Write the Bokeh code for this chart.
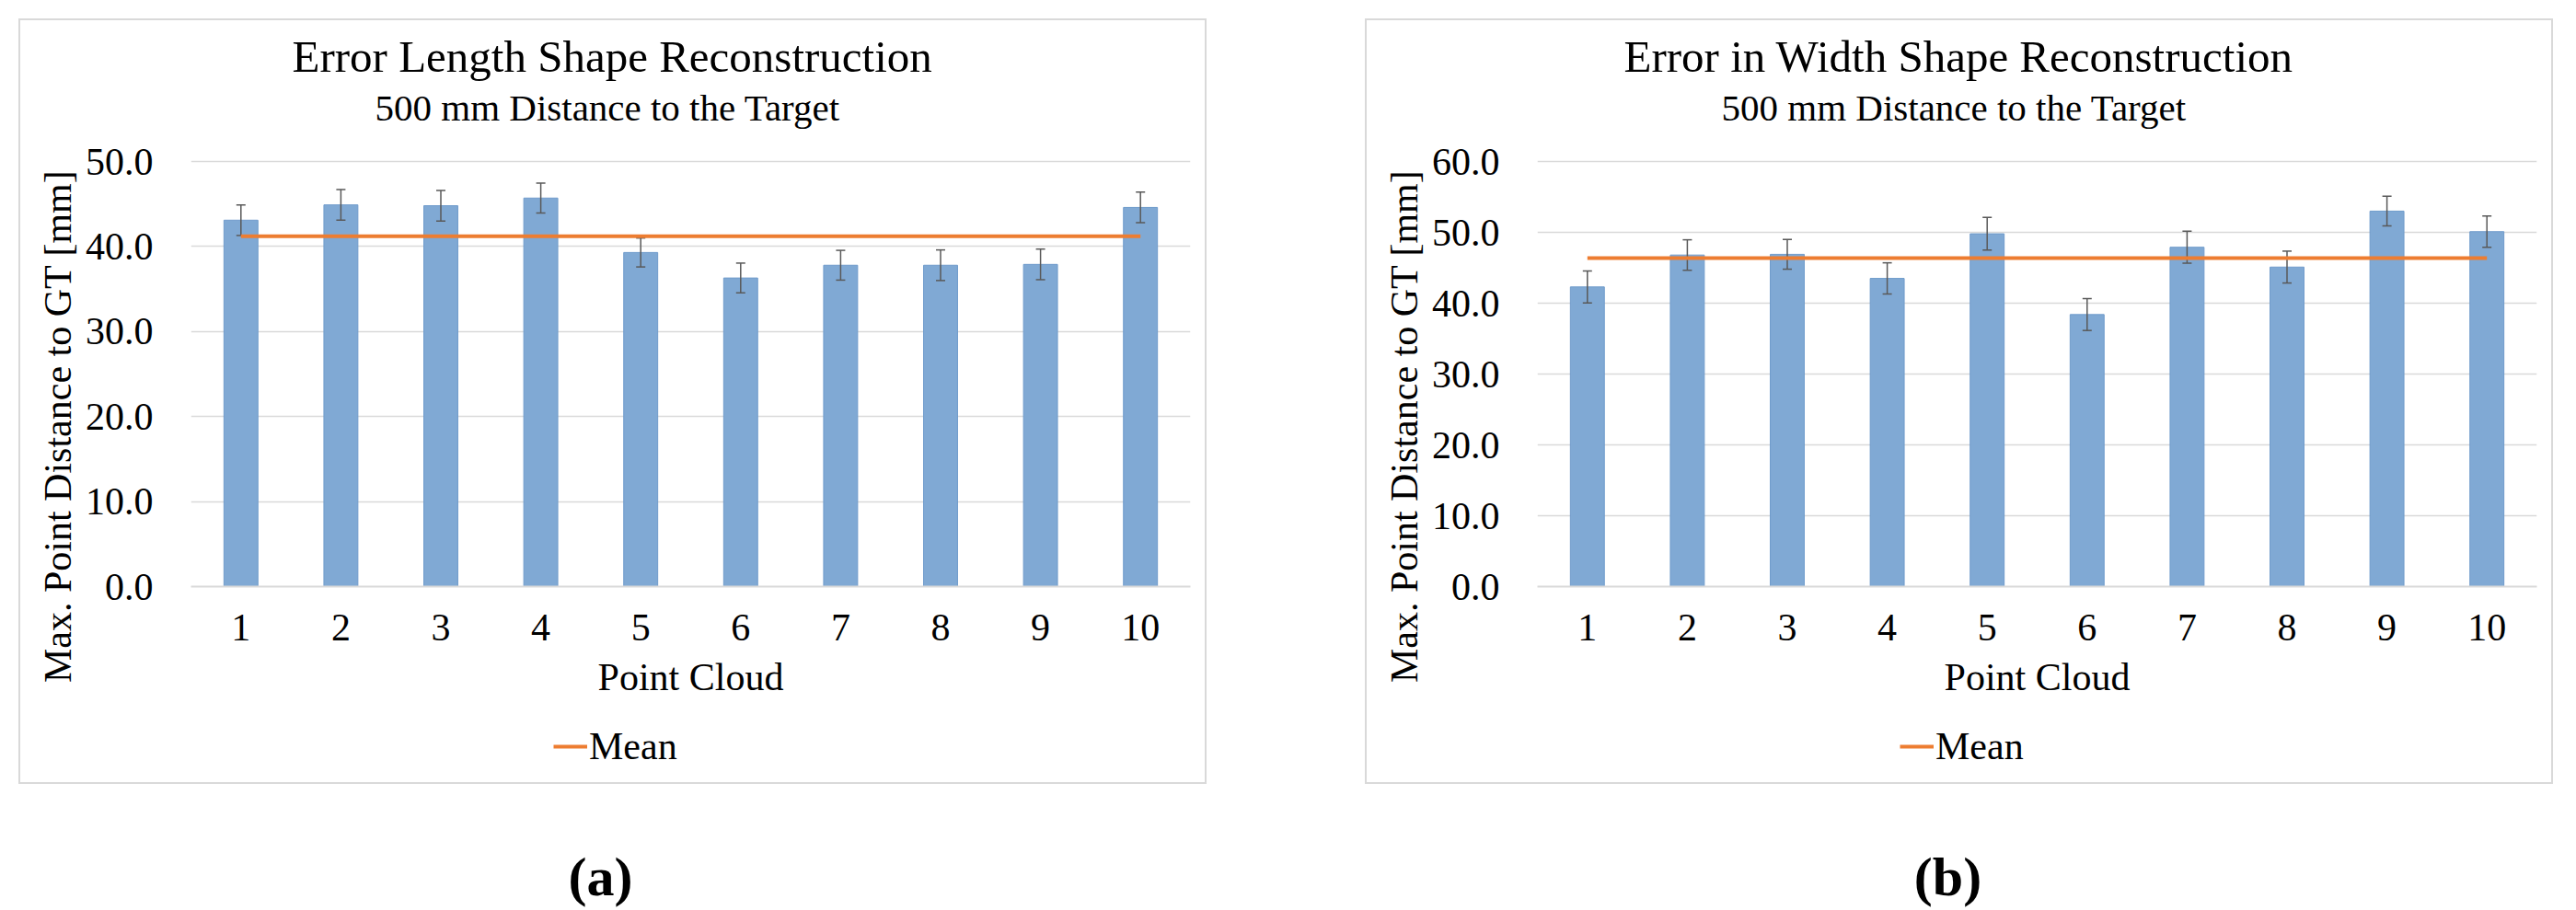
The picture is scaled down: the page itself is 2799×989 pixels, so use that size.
from bokeh.plotting import figure
from bokeh.models import (ColumnDataSource, Legend, LegendItem, Title, Range1d, FactorRange,
                          FixedTicker, NumeralTickFormatter, Spacer)
from bokeh.layouts import row, column
from bokeh.embed import file_html
from bokeh.resources import INLINE
from bokeh.core.properties import value

# ---------------- data ----------------
point_clouds = ["1", "2", "3", "4", "5", "6", "7", "8", "9", "10"]

length_error = [43.1, 44.9, 44.8, 45.7, 39.3, 36.3, 37.8, 37.8, 37.9, 44.6]
length_std = [1.8, 1.8, 1.8, 1.75, 1.7, 1.75, 1.75, 1.8, 1.8, 1.8]

width_error = [42.3, 46.8, 46.9, 43.5, 49.8, 38.4, 47.9, 45.1, 53.0, 50.1]
width_std = [2.25, 2.15, 2.1, 2.2, 2.3, 2.25, 2.25, 2.25, 2.1, 2.2]

titles = ["Error Length Shape Reconstruction", "Error in Width Shape Reconstruction"]
subtitle = "500 mm Distance to the Target"
x_label = "Point Cloud"
y_label = "Max. Point Distance to GT [mm]"
legend_label = "Mean"
panel_labels = ["(a)", "(b)"]
y_max = [50, 60]
y_step = 10

FONT = "Liberation Serif"
BAR_FILL = "#80A9D4"
BAR_LINE = "#6F9BCB"
ERR_COLOR = "#595959"
MEAN_COLOR = "#ED7D31"
GRID = "#D9D9D9"
BOX = "2px solid #D9D9D9"

PW = 1291                   # panel (boxed) width
CH, LH = 755, 77            # chart part / legend part heights (sum = boxed height)
LEFT, TOP, GAP = 20, 20, 172
LABEL_H = 136


def make_panel(title, values, errs, ymax, title_offset):
    p = figure(width=PW, height=CH, x_range=FactorRange(*point_clouds),
               y_range=Range1d(0, ymax * 1.078), output_backend="svg",
               toolbar_location=None,
               min_border_left=185, min_border_right=20, min_border_top=117,
               min_border_bottom=140, outline_line_color=None,
               background_fill_color="white", border_fill_color="white",
               title=title,
               styles={"border": BOX, "border-bottom": "none"})

    src = ColumnDataSource(dict(
        x=point_clouds, top=values,
        upper=[v + e for v, e in zip(values, errs)],
        lower=[v - e for v, e in zip(values, errs)],
    ))
    mean_val = sum(values) / len(values)
    msrc = ColumnDataSource(dict(x=point_clouds, y=[mean_val] * len(values)))

    p.vbar(x="x", top="top", width=0.34, source=src, fill_color=BAR_FILL,
           line_color=BAR_LINE, line_width=1)
    p.segment(x0="x", y0="lower", x1="x", y1="upper", source=src,
              line_color=ERR_COLOR, line_width=1.5)
    p.scatter(x="x", y="upper", source=src, marker="dash", size=10,
              line_color=ERR_COLOR, line_width=1.5)
    p.scatter(x="x", y="lower", source=src, marker="dash", size=10,
              line_color=ERR_COLOR, line_width=1.5)
    p.line(x="x", y="y", source=msrc, line_color=MEAN_COLOR, line_width=4)

    ticks = list(range(0, ymax + 1, y_step))

    # x axis
    p.xaxis.axis_label = x_label
    p.xaxis.axis_label_text_font = FONT
    p.xaxis.axis_label_text_font_size = "42px"
    p.xaxis.axis_label_text_font_style = "normal"
    p.xaxis.axis_label_text_color = "black"
    p.xaxis.axis_label_standoff = 14
    p.xaxis.major_label_text_font = FONT
    p.xaxis.major_label_text_font_size = "42px"
    p.xaxis.major_label_text_color = "black"
    p.xaxis.major_label_standoff = 24
    p.xaxis.major_tick_line_color = None
    p.xaxis.minor_tick_line_color = None
    p.xaxis.axis_line_color = GRID
    p.xaxis.axis_line_width = 2

    # y axis
    p.yaxis.ticker = FixedTicker(ticks=ticks)
    p.yaxis.formatter = NumeralTickFormatter(format="0.0")
    p.yaxis.major_label_text_font = FONT
    p.yaxis.major_label_text_font_size = "42px"
    p.yaxis.major_label_text_color = "black"
    p.yaxis.major_label_standoff = 35
    p.yaxis.major_tick_line_color = None
    p.yaxis.minor_tick_line_color = None
    p.yaxis.axis_line_color = None

    p.xgrid.grid_line_color = None
    p.ygrid.ticker = FixedTicker(ticks=ticks)
    p.ygrid.grid_line_color = GRID
    p.ygrid.grid_line_width = 1.5

    # main title (outermost) and subtitle (next to the frame)
    p.title.text_font = FONT
    p.title.text_font_size = "49px"
    p.title.text_font_style = "normal"
    p.title.text_color = "black"
    p.title.align = "left"
    p.title.offset = title_offset
    p.title.standoff = 6
    sub = Title(text=subtitle, align="left", offset=200, text_font=FONT,
                text_font_size="41px", text_font_style="normal",
                text_color="black", standoff=0)
    p.add_layout(sub, "above")

    ylab = Title(text=y_label, align="right", offset=45, text_font=FONT,
                 text_font_size="42px", text_font_style="normal",
                 text_color="black", standoff=8)
    p.add_layout(ylab, "left")

    # legend strip (lower part of the boxed panel)
    lg = figure(width=PW, height=LH, x_range=p.x_range, y_range=Range1d(0, 1),
                output_backend="svg", toolbar_location=None,
                min_border_left=185, min_border_right=20, min_border_top=0,
                min_border_bottom=0, outline_line_color=None,
                x_axis_location=None, y_axis_location=None,
                background_fill_color="white", border_fill_color="white",
                styles={"border": BOX, "border-top": "none"})
    lg.grid.visible = False
    # the mean series itself (outside this strip's y-range), used as the legend entry
    mean_lg = lg.line(x="x", y="y", source=msrc, line_color=MEAN_COLOR, line_width=4)
    legend = Legend(items=[LegendItem(label=legend_label, renderers=[mean_lg])],
                    location=(394, 17), orientation="horizontal",
                    label_text_font=FONT, label_text_font_size="42px",
                    label_text_color="black",
                    glyph_width=37, glyph_height=46, label_height=46,
                    label_standoff=2, padding=0, margin=0,
                    border_line_color=None, background_fill_alpha=0)
    lg.add_layout(legend)
    return column(p, lg)


pa = make_panel(titles[0], length_error, length_std, y_max[0], 110)
pb = make_panel(titles[1], width_error, width_std, y_max[1], 94)

# panel captions, placed in page pixel coordinates (y measured from the top)
label_x = [652, 2116]
label_y = [100, 100]
lab = figure(width=2779, height=LABEL_H, x_range=Range1d(0, 2779),
             y_range=Range1d(LABEL_H, 0), output_backend="svg",
             toolbar_location=None, min_border=0, outline_line_color=None,
             x_axis_location=None, y_axis_location=None)
lab.grid.visible = False
lab.text(x=label_x, y=label_y, text=panel_labels, text_font=value(FONT),
         text_font_style="bold", text_font_size="60px", text_align="center",
         text_baseline="alphabetic", text_color="black")

layout = column(Spacer(height=TOP),
                row(Spacer(width=LEFT), pa, Spacer(width=GAP), pb),
                lab)

open("out.html", "w").write(file_html(layout, INLINE))
